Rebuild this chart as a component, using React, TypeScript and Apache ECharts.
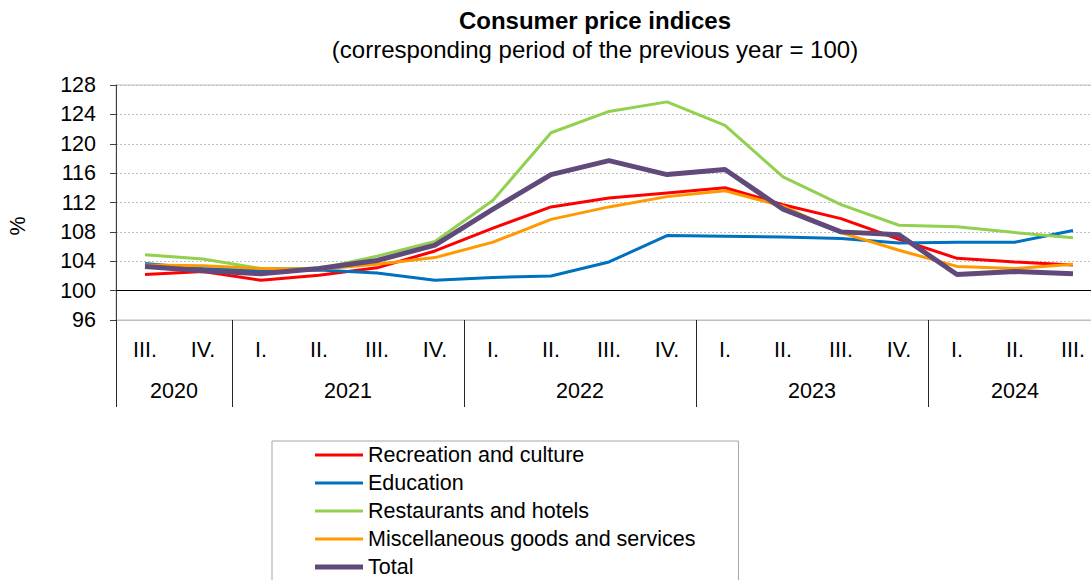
import React, { useEffect, useRef } from "react";
import * as echarts from "echarts";

const quarters = ["III.", "IV.", "I.", "II.", "III.", "IV.", "I.", "II.", "III.", "IV.", "I.", "II.", "III.", "IV.", "I.", "II.", "III."];
const years = ["2020", "2021", "2022", "2023", "2024"];
const quartersPerYear = [2, 4, 4, 4, 3];

const recreation = [102.2, 102.6, 101.4, 102.1, 103.1, 105.4, 108.5, 111.4, 112.6, 113.3, 114.0, 111.7, 109.8, 107.0, 104.4, 103.9, 103.5];
const education = [103.7, 103.0, 102.7, 102.8, 102.4, 101.4, 101.8, 102.0, 103.9, 107.5, 107.4, 107.3, 107.1, 106.5, 106.6, 106.6, 108.2];
const restaurants = [104.9, 104.3, 103.0, 103.0, 104.7, 106.7, 112.3, 121.5, 124.4, 125.7, 122.5, 115.5, 111.7, 108.9, 108.7, 107.9, 107.2];
const miscellaneous = [103.5, 103.4, 103.0, 102.9, 103.6, 104.5, 106.6, 109.7, 111.4, 112.8, 113.6, 111.5, 107.9, 105.5, 103.3, 103.0, 103.6];
const total = [103.3, 102.7, 102.3, 103.0, 104.1, 106.2, 111.1, 115.8, 117.7, 115.8, 116.5, 111.1, 108.0, 107.6, 102.2, 102.6, 102.3];

const FONT = "'Liberation Sans', Arial, sans-serif";

export default function App() {
  const ref = useRef<HTMLDivElement>(null);
  useEffect(() => {
    const chart = echarts.init(ref.current!, null, { renderer: "svg" });
    const starts: number[] = [];
    const centers: number[] = [];
    let acc = 0;
    quartersPerYear.forEach((n) => {
      starts.push(acc);
      centers.push(acc + n / 2);
      acc += n;
    });
    const mk = (name: string, data: number[], color: string, width: number, extra: any = {}) => ({
      name,
      type: "line",
      data,
      symbol: "none",
      showSymbol: false,
      xAxisIndex: 0,
      yAxisIndex: 0,
      lineStyle: { color, width },
      itemStyle: { color },
      ...extra,
    });
    const icon = (h: number) => `path://M0,0L48,0L48,${h}L0,${h}Z`;
    chart.setOption({
      animation: false,
      textStyle: { fontFamily: FONT },
      title: [
        {
          text: "Consumer price indices",
          left: 595,
          top: 8,
          padding: 0,
          textAlign: "center",
          textStyle: { fontFamily: FONT, fontSize: 24, fontWeight: "bold", color: "#000" },
        },
        {
          text: "(corresponding period of the previous year = 100)",
          left: 595,
          top: 37,
          padding: 0,
          textAlign: "center",
          textStyle: { fontFamily: FONT, fontSize: 24, fontWeight: "normal", color: "#000" },
        },
      ],
      grid: {
        left: 116,
        top: 85,
        width: 986,
        height: 235,
        outerBoundsMode: "none",
        containLabel: false,
        show: true,
        borderColor: "#BFBFBF",
        borderWidth: 1,
        backgroundColor: "transparent",
      },
      legend: {
        orient: "vertical",
        left: 272,
        top: 441,
        height: 170,
        align: "left",
        padding: [3, 43, 3, 43],
        borderColor: "#A6A6A6",
        borderWidth: 1,
        itemWidth: 48,
        itemHeight: 22,
        itemGap: 6,
        textStyle: { fontFamily: FONT, fontSize: 21.5, color: "#000" },
        data: [
          { name: "Recreation and culture", icon: icon(3) },
          { name: "Education", icon: icon(3) },
          { name: "Restaurants and hotels", icon: icon(3) },
          { name: "Miscellaneous goods and services", icon: icon(3) },
          { name: "Total", icon: icon(5) },
        ],
      },
      xAxis: [
        {
          type: "category",
          data: quarters,
          position: "bottom",
          boundaryGap: true,
          axisLine: { show: true, onZero: false, lineStyle: { color: "#BFBFBF", width: 1 } },
          axisTick: {
            show: true,
            length: 87,
            interval: (index: number) => starts.includes(index) || index === quarters.length,
            lineStyle: { color: "#262626", width: 1 },
          },
          axisLabel: { margin: 19, fontSize: 21.5, color: "#000", fontFamily: FONT, interval: 0 },
          splitLine: { show: false },
        },
        {
          type: "value",
          min: 0,
          max: quarters.length,
          interval: 0.5,
          position: "bottom",
          axisLine: { show: false },
          axisTick: { show: false },
          splitLine: { show: false },
          axisLabel: {
            margin: 60,
            fontSize: 21.5,
            color: "#000",
            fontFamily: FONT,
            formatter: (v: number) => {
              const i = centers.findIndex((c) => Math.abs(c - v) < 1e-6);
              return i >= 0 ? years[i] : "";
            },
          },
        },
      ],
      yAxis: {
        type: "value",
        min: 96,
        max: 128,
        interval: 4,
        axisLine: { show: true, lineStyle: { color: "#404040", width: 1 } },
        axisTick: { show: true, inside: false, length: 6, lineStyle: { color: "#404040" } },
        axisLabel: { margin: 20, fontSize: 21.5, color: "#000", fontFamily: FONT },
        splitLine: { show: true, lineStyle: { color: "#BFBFBF", type: [2, 2], width: 1 } },
      },
      graphic: [
        {
          type: "text",
          x: 18,
          y: 226,
          rotation: Math.PI / 2,
          style: { text: "%", fontSize: 21.5, fontFamily: FONT, fill: "#000", align: "center", verticalAlign: "middle" },
        },
      ],
      series: [
        mk("Recreation and culture", recreation, "#FF0000", 3, {
          markLine: {
            silent: true,
            symbol: "none",
            label: { show: false },
            lineStyle: { color: "#000", type: "solid", width: 1 },
            data: [{ yAxis: 100 }],
          },
        }),
        mk("Education", education, "#0070C0", 3),
        mk("Restaurants and hotels", restaurants, "#92D050", 3),
        mk("Miscellaneous goods and services", miscellaneous, "#FF9900", 3),
        mk("Total", total, "#604A7B", 5),
      ],
    });
    return () => chart.dispose();
  }, []);
  return <div ref={ref} style={{ position: "absolute", left: 0, top: 0, width: 1091, height: 580 }} />;
}
